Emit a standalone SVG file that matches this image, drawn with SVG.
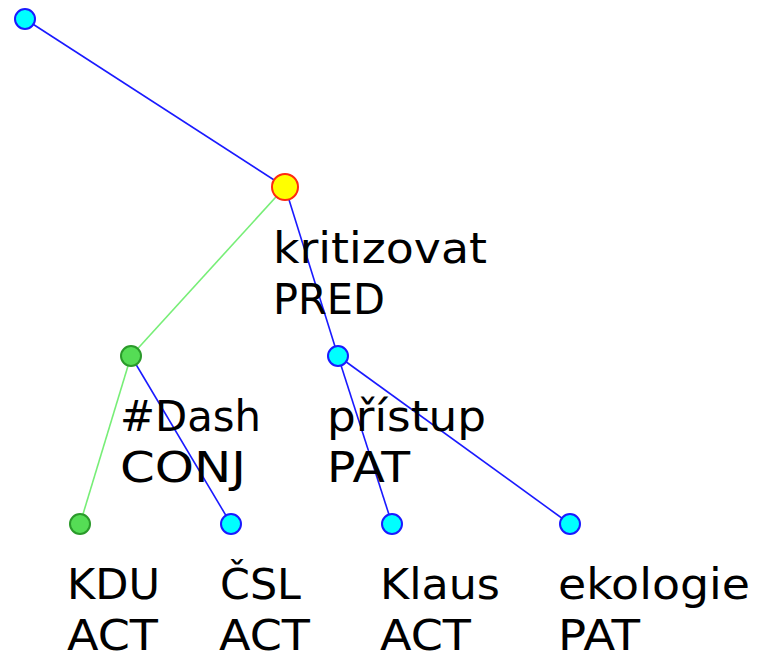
<svg xmlns="http://www.w3.org/2000/svg" width="757" height="653" viewBox="0 0 757 653">
<style>
.eb{stroke:#1a1aff;stroke-width:1.6;fill:none}
.eg{stroke:#77ee77;stroke-width:1.6;fill:none}
.nc{fill:#00ffff;stroke:#1a1aff;stroke-width:2}
.ng{fill:#55dd55;stroke:#2a9a2a;stroke-width:2}
.ny{fill:#ffff00;stroke:#ff2a10;stroke-width:2}
text{font-family:"DejaVu Sans","Liberation Sans",sans-serif;font-size:43px;fill:#000}
</style>
<rect width="757" height="653" fill="#fff"/>
<g id="edges">
<line class="eb" x1="25" y1="19" x2="285" y2="187"/>
<line class="eg" x1="285" y1="187" x2="131" y2="356"/>
<line class="eb" x1="285" y1="187" x2="338" y2="356"/>
<line class="eg" x1="131" y1="356" x2="80" y2="524"/>
<line class="eb" x1="131" y1="356" x2="231" y2="524"/>
<line class="eb" x1="338" y1="356" x2="392" y2="524"/>
<line class="eb" x1="338" y1="356" x2="570" y2="524"/>
</g>
<g id="n0"><circle class="nc" cx="25" cy="19" r="10"/></g>
<g id="n1"><circle class="ny" cx="285" cy="187" r="13"/><text x="273" y="263" textLength="214" lengthAdjust="spacingAndGlyphs">kritizovat</text><text x="273" y="314" textLength="112" lengthAdjust="spacingAndGlyphs">PRED</text></g>
<g id="n2"><circle class="ng" cx="131" cy="356" r="10"/><text x="120" y="431" textLength="141" lengthAdjust="spacingAndGlyphs">#Dash</text><text x="120" y="482" textLength="126" lengthAdjust="spacingAndGlyphs">CONJ</text></g>
<g id="n3"><circle class="nc" cx="338" cy="356" r="10"/><text x="327" y="431" textLength="159" lengthAdjust="spacingAndGlyphs">přístup</text><text x="327" y="482" textLength="83" lengthAdjust="spacingAndGlyphs">PAT</text></g>
<g id="n4"><circle class="ng" cx="80" cy="524" r="10"/><text x="67" y="599" textLength="93" lengthAdjust="spacingAndGlyphs">KDU</text><text x="67" y="650" textLength="91" lengthAdjust="spacingAndGlyphs">ACT</text></g>
<g id="n5"><circle class="nc" cx="231" cy="524" r="10"/><text x="220" y="599" textLength="81" lengthAdjust="spacingAndGlyphs">ČSL</text><text x="219" y="650" textLength="91" lengthAdjust="spacingAndGlyphs">ACT</text></g>
<g id="n6"><circle class="nc" cx="392" cy="524" r="10"/><text x="380" y="599" textLength="120" lengthAdjust="spacingAndGlyphs">Klaus</text><text x="380" y="650" textLength="91" lengthAdjust="spacingAndGlyphs">ACT</text></g>
<g id="n7"><circle class="nc" cx="570" cy="524" r="10"/><text x="558" y="599" textLength="192" lengthAdjust="spacingAndGlyphs">ekologie</text><text x="558" y="650" textLength="82" lengthAdjust="spacingAndGlyphs">PAT</text></g>
</svg>
